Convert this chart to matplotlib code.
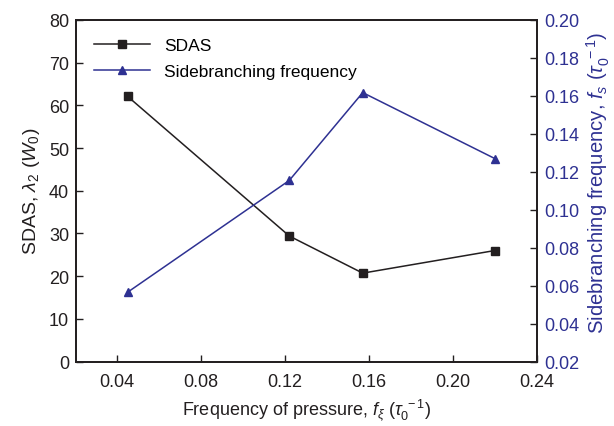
import matplotlib
matplotlib.use("Agg")
import matplotlib.pyplot as plt
from matplotlib.ticker import FixedLocator, FormatStrFormatter

plt.rcParams['font.family'] = ['Liberation Sans', 'DejaVu Sans']
plt.rcParams['mathtext.fontset'] = 'custom'
plt.rcParams['mathtext.rm'] = 'Liberation Sans'
plt.rcParams['mathtext.it'] = 'Liberation Sans:italic'
plt.rcParams['mathtext.sf'] = 'Liberation Sans'

# Data
freq_pressure = [0.045, 0.122, 0.157, 0.220]
sdas = [62.1, 29.4, 20.7, 26.0]
sidebranching = [0.0565, 0.1154, 0.1617, 0.1269]

x_ticks = [0.04, 0.08, 0.12, 0.16, 0.20, 0.24]
left_ticks = [0, 10, 20, 30, 40, 50, 60, 70, 80]
right_ticks = [0.02, 0.04, 0.06, 0.08, 0.10, 0.12, 0.14, 0.16, 0.18, 0.20]

black = '#231F20'
navy = '#2E3192'

fig = plt.figure(figsize=(6.14, 4.27), dpi=100)
ax = fig.add_axes([0.124, 0.151, 0.7506, 0.80])
ax2 = ax.twinx()

l1, = ax.plot(freq_pressure, sdas, color=black, lw=1.1, marker='s', ms=6,
              label='SDAS')
l2, = ax2.plot(freq_pressure, sidebranching, color=navy, lw=1.1, marker='^',
               ms=6, label='Sidebranching frequency')

ax.set_xlim(0.0205, 0.24)
ax.set_ylim(0, 80)
ax2.set_ylim(0.02, 0.20)

ax.xaxis.set_major_locator(FixedLocator(x_ticks))
ax.xaxis.set_major_formatter(FormatStrFormatter('%.2f'))
ax.yaxis.set_major_locator(FixedLocator(left_ticks))
ax2.yaxis.set_major_locator(FixedLocator(right_ticks))
ax2.yaxis.set_major_formatter(FormatStrFormatter('%.2f'))

fs = 13
ax.tick_params(axis='both', direction='in', length=5, width=1, labelsize=fs,
               colors=black, top=False, right=False)
ax.tick_params(axis='x', pad=8.5)
ax.tick_params(axis='y', pad=5)
ax2.tick_params(axis='y', direction='in', length=5, width=1, labelsize=fs,
                colors=black, labelcolor=navy, pad=5)
for a in (ax, ax2):
    for s in a.spines.values():
        s.set_linewidth(1.3)
        s.set_color(black)

ax.set_xlabel(r'Frequency of pressure, $f_\xi$ ($\tau_0^{\ -1}$)', fontsize=fs,
              color=black, labelpad=4)
ax.set_ylabel(r'SDAS, $\lambda_2$ ($W_0$)', fontsize=fs + 1, color=black,
              labelpad=5)
ax2.set_ylabel(r'Sidebranching frequency, $f_s$ ($\tau_0^{\ -1}$)',
               fontsize=14.6, color=navy, labelpad=4)
ax2.yaxis.set_label_coords(1.103, 0.525)

leg = ax.legend(handles=[l1, l2], loc='upper left', frameon=False,
                fontsize=12.5, handlelength=3.2, borderaxespad=0.65,
                labelspacing=0.6, bbox_to_anchor=(0.0, 1.0))

fig.savefig('out.png', dpi=100)
